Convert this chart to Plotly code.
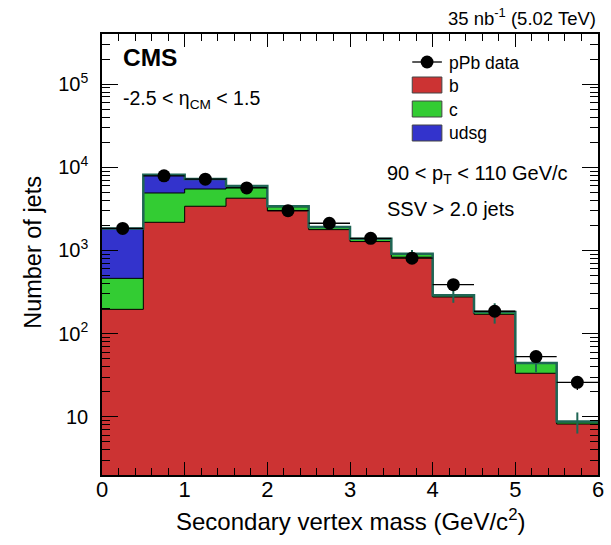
import plotly.graph_objects as go
import math

# ---- data ----
edges = [0.0, 0.5, 1.0, 1.5, 2.0, 2.5, 3.0, 3.5, 4.0, 4.5, 5.0, 5.5, 6.0]
b_vals = [196, 2180, 3400, 4250, 3000, 1780, 1280, 830, 276, 171, 33.4, 8.2]
c_vals = [266, 2730, 2080, 1450, 350, 110, 80, 70, 10, 9, 10.6, 0.5]
udsg_vals = [1370, 3200, 1750, 250, 60, 30, 20, 12, 4, 2, 0.3, 0.1]
mc_err = [40, 90, 80, 70, 50, 40, 30, 100, 55, 50, 10, 2.5]
data_vals = [1840, 7900, 7200, 5640, 3010, 2125, 1400, 809, 388, 186, 53, 26]
data_err = [43, 89, 85, 75, 55, 46, 37, 28, 20, 14, 7, 5]
x_ticks = [0, 1, 2, 3, 4, 5, 6]
y_ticks = [10, 100, 1000, 10000, 100000]
y_ticktext = ["10", "10<sup>2</sup>", "10<sup>3</sup>", "10<sup>4</sup>", "10<sup>5</sup>"]

RED = "#cc3333"
GREEN = "#33cc33"
BLUE = "#3333cc"
TEAL = "#1f6655"
FONT = "Liberation Sans, Arial, Helvetica, sans-serif"

centers = [(edges[i] + edges[i + 1]) / 2 for i in range(len(edges) - 1)]
half_w = [(edges[i + 1] - edges[i]) / 2 for i in range(len(edges) - 1)]
bc = [b + c for b, c in zip(b_vals, c_vals)]
tot = [x + u for x, u in zip(bc, udsg_vals)]


def step(vals):
    return list(edges), list(vals) + [vals[-1]]


fig = go.Figure()
for vals, col in [(tot, BLUE), (bc, GREEN), (b_vals, RED)]:
    xs, ys = step(vals)
    fig.add_trace(go.Scatter(x=xs, y=ys, mode="lines", line=dict(shape="hv", color="black", width=1),
                             fill="tozeroy", fillcolor=col, showlegend=False, hoverinfo="skip"))

xs, ys = step(tot)
fig.add_trace(go.Scatter(x=xs, y=ys, mode="lines", line=dict(shape="hv", color=TEAL, width=2.5),
                         showlegend=False, hoverinfo="skip"))
# MC statistical errors
fig.add_trace(go.Scatter(x=centers, y=tot, mode="markers", marker=dict(size=1, color=TEAL, opacity=0),
                         error_y=dict(type="data", array=mc_err, color=TEAL, thickness=2, width=0),
                         showlegend=False, hoverinfo="skip"))
# data
fig.add_trace(go.Scatter(x=centers, y=data_vals, mode="markers",
                         marker=dict(size=13, color="black"),
                         error_x=dict(type="data", array=half_w, color="black", thickness=1.3, width=0),
                         error_y=dict(type="data", array=data_err, color="black", thickness=1.3, width=0),
                         showlegend=False))

# plot area in pixels
L, R, T, B = 102, 604, 34, 475
W, H = 611, 545


def px(x):
    return (x - L) / (R - L)


def py(y):
    return (B - y) / (B - T)


minor_y = [m * 10 ** d for d in range(0, 6) for m in range(2, 10)]

fig.update_layout(
    width=W, height=H,
    margin=dict(l=L, r=W - R, t=T, b=H - B, pad=0),
    paper_bgcolor="white", plot_bgcolor="white",
    font=dict(family=FONT, color="black", size=18),
    xaxis=dict(range=[0, 6], tickvals=x_ticks, ticks="inside", ticklen=13, tickwidth=1, tickcolor="black",
               showline=True, linecolor="black", linewidth=1.5, mirror="allticks", showgrid=False,
               zeroline=False, tickfont=dict(size=22), ticklabelstandoff=-6,
               minor=dict(dtick=0.2, ticks="inside", ticklen=7, tickcolor="black", showgrid=False)),
    yaxis=dict(type="log", range=[math.log10(2), math.log10(4e5)], tickvals=y_ticks, ticktext=y_ticktext,
               ticks="inside", ticklen=16, tickwidth=1, tickcolor="black",
               showline=True, linecolor="black", linewidth=1.5, mirror="allticks", showgrid=False,
               zeroline=False, tickfont=dict(size=20), ticklabelstandoff=8,
               minor=dict(tickmode="array", tickvals=minor_y, ticks="inside", ticklen=8,
                          tickcolor="black", showgrid=False)),
)

ann = []


def text(x, y, s, size, xanchor="left", bold=False, angle=0):
    ann.append(dict(x=px(x), y=py(y), xref="paper", yref="paper", text=("<b>%s</b>" % s if bold else s),
                    showarrow=False, xanchor=xanchor, yanchor="middle",
                    font=dict(size=size, family=FONT, color="black"), textangle=angle))


text(604, 17, "35 nb<sup>-1</sup> (5.02 TeV)", 18.5, xanchor="right")
text(121, 58, "CMS", 24.5, bold=True)
text(121, 99, "-2.5 &lt; η<sub>CM</sub> &lt; 1.5", 19.5)
text(388, 174, "90 &lt; p<sub>T</sub> &lt; 110 GeV/c", 20)
text(388, 209, "SSV &gt; 2.0 jets", 20)
text(451, 63, "pPb data", 17.5)
text(451, 86, "b", 17.5)
text(451, 110, "c", 17.5)
text(451, 133, "udsg", 17.5)
text(354, 520, "Secondary vertex mass (GeV/c<sup>2</sup>)", 24, xanchor="center")
text(32, 252, "Number of jets", 23.5, xanchor="center", angle=-90)
fig.update_layout(annotations=ann)

shapes = []
# legend: data marker
shapes.append(dict(type="line", xref="paper", yref="paper", x0=px(416), x1=px(446), y0=py(62), y1=py(62),
                   line=dict(color="black", width=1.3)))
shapes.append(dict(type="circle", xref="paper", yref="paper", x0=px(424.5), x1=px(437.5), y0=py(55.5),
                   y1=py(68.5), fillcolor="black", line=dict(color="black", width=0)))
for yc, col in [(85, RED), (109, GREEN), (133, BLUE)]:
    shapes.append(dict(type="rect", xref="paper", yref="paper", x0=px(416), x1=px(446), y0=py(yc - 8),
                       y1=py(yc + 8), fillcolor=col, line=dict(color="#444444", width=1)))
fig.update_layout(shapes=shapes)

fig.write_html("out.html")
